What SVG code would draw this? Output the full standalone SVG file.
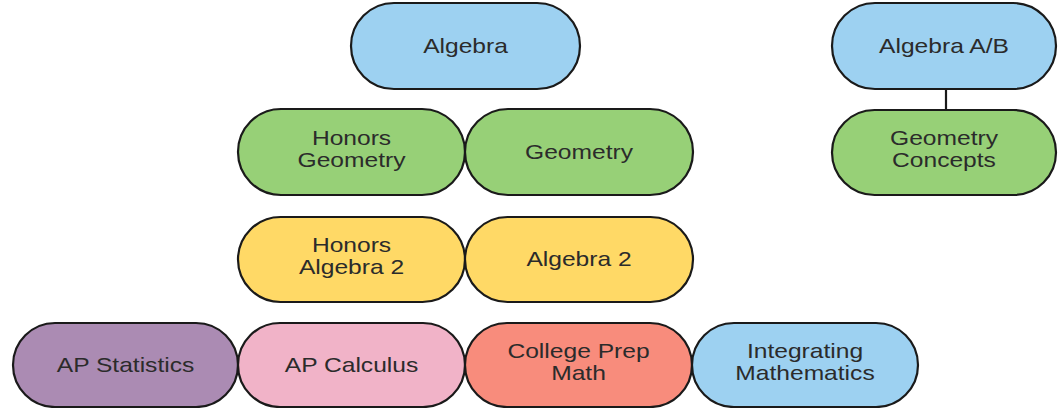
<svg xmlns="http://www.w3.org/2000/svg" width="1058" height="408" viewBox="0 0 1058 408">
<style>
.n{stroke:#1a1a1a;stroke-width:2.2}
.t{font-family:"Liberation Sans",Arial,sans-serif;font-size:20.5px;fill:#2b2b2b;text-anchor:middle}
.blue{fill:#9dd1f1}.green{fill:#97d077}.yellow{fill:#ffd966}.purple{fill:#ab8bb3}.pink{fill:#f1b3c8}.salmon{fill:#f88c7c}
</style>
<rect width="1058" height="408" fill="#fff"/>
<g id="connectors">
<line x1="946" y1="89" x2="946" y2="110" stroke="#1a1a1a" stroke-width="2.2"/>
</g>
<g id="algebra">
<rect class="n blue" x="351" y="3" width="229" height="86" rx="43"/>
<text class="t" transform="translate(465.5,53) scale(1.2,1)">Algebra</text>
</g>
<g id="algebra-ab">
<rect class="n blue" x="832" y="3" width="224" height="86" rx="43"/>
<text class="t" transform="translate(944,53) scale(1.2,1)">Algebra A/B</text>
</g>
<g id="honors-geometry">
<rect class="n green" x="238" y="109" width="227" height="86" rx="43"/>
<text class="t" transform="translate(351.5,145) scale(1.2,1)">Honors</text>
<text class="t" transform="translate(351.5,167) scale(1.2,1)">Geometry</text>
</g>
<g id="geometry">
<rect class="n green" x="465" y="109" width="228" height="86" rx="43"/>
<text class="t" transform="translate(579,159) scale(1.2,1)">Geometry</text>
</g>
<g id="geometry-concepts">
<rect class="n green" x="832" y="110" width="224" height="85" rx="42.5"/>
<text class="t" transform="translate(944,145) scale(1.2,1)">Geometry</text>
<text class="t" transform="translate(944,167) scale(1.2,1)">Concepts</text>
</g>
<g id="honors-algebra2">
<rect class="n yellow" x="238" y="217" width="227" height="85" rx="42.5"/>
<text class="t" transform="translate(351.5,252) scale(1.2,1)">Honors</text>
<text class="t" transform="translate(351.5,274) scale(1.2,1)">Algebra 2</text>
</g>
<g id="algebra2">
<rect class="n yellow" x="465" y="217" width="228" height="85" rx="42.5"/>
<text class="t" transform="translate(579,266) scale(1.2,1)">Algebra 2</text>
</g>
<g id="ap-statistics">
<rect class="n purple" x="13" y="323" width="225" height="84" rx="42"/>
<text class="t" transform="translate(125.5,372) scale(1.2,1)">AP Statistics</text>
</g>
<g id="ap-calculus">
<rect class="n pink" x="238" y="323" width="227" height="84" rx="42"/>
<text class="t" transform="translate(351.5,372) scale(1.2,1)">AP Calculus</text>
</g>
<g id="college-prep">
<rect class="n salmon" x="465" y="323" width="227" height="84" rx="42"/>
<text class="t" transform="translate(578.5,358) scale(1.2,1)">College Prep</text>
<text class="t" transform="translate(578.5,380) scale(1.2,1)">Math</text>
</g>
<g id="integrating">
<rect class="n blue" x="692" y="323" width="226" height="84" rx="42"/>
<text class="t" transform="translate(805,358) scale(1.2,1)">Integrating</text>
<text class="t" transform="translate(805,380) scale(1.2,1)">Mathematics</text>
</g>
</svg>
